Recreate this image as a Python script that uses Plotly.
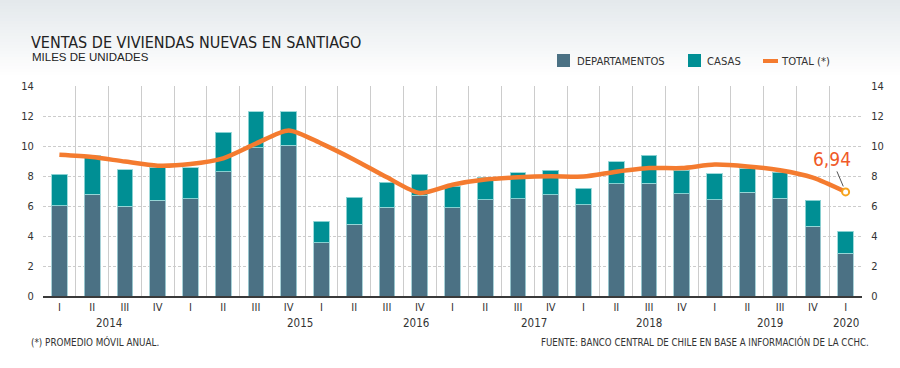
import plotly.graph_objects as go

# ---------------- data ----------------
QUARTERS = ["I", "II", "III", "IV"] * 6 + ["I"]
YEARS = ["2014", "2015", "2016", "2017", "2018", "2019", "2020"]
DEPARTAMENTOS = [6.02, 6.78, 6.00, 6.38, 6.49, 8.29, 9.89, 10.04, 3.56, 4.80, 5.93, 6.73,
                 5.87, 6.42, 6.47, 6.76, 6.07, 7.49, 7.53, 6.82, 6.42, 6.93, 6.51, 4.64, 2.84]
CASAS = [2.11, 2.57, 2.42, 2.17, 2.07, 2.62, 2.38, 2.23, 1.42, 1.80, 1.67, 1.40,
         1.44, 1.51, 1.75, 1.62, 1.13, 1.47, 1.85, 1.55, 1.73, 1.56, 1.73, 1.76, 1.49]
TOTAL = [9.42, 9.27, 8.96, 8.69, 8.80, 9.18, 10.16, 11.04, 10.16, 9.09, 7.91, 6.87,
         7.42, 7.76, 7.91, 7.98, 7.96, 8.29, 8.53, 8.53, 8.76, 8.64, 8.38, 7.89, 6.94]

# ---------------- layout helpers ----------------
W, H = 900, 368
L, R, T, B = 43, 38, 86, 72
PW, PH = W - L - R, H - T - B


def px(xp):
    return (xp - L) / PW


def py(yp):
    return (H - B - yp) / PH


NARROW = "DejaVu Sans Condensed, Liberation Sans Narrow, sans-serif"
REG = "Liberation Sans, Arial, sans-serif"
C_DEP = "#4b7184"
C_CAS = "#008f94"
C_TOT = "#f47b2f"
TXT = "#333333"
GRID = "#cccccc"

x = list(range(len(QUARTERS)))

fig = go.Figure()
fig.add_trace(go.Bar(x=x, y=DEPARTAMENTOS, name="DEPARTAMENTOS", width=0.48,
                     marker=dict(color=C_DEP, line=dict(color="rgba(160,205,212,0.9)", width=1))))
fig.add_trace(go.Bar(x=x, y=CASAS, name="CASAS", width=0.48,
                     marker=dict(color=C_CAS, line=dict(color="rgba(150,215,215,0.9)", width=1))))
fig.add_trace(go.Scatter(x=x, y=TOTAL, name="TOTAL (*)", mode="lines",
                         line=dict(color=C_TOT, width=4.5, shape="spline", smoothing=0.7)))
fig.add_trace(go.Scatter(x=[x[-1]], y=[TOTAL[-1]], mode="markers", showlegend=False,
                         marker=dict(symbol="circle", size=7, color="white",
                                     line=dict(color="#f6a41e", width=2))))

shapes = []
# header gradient
top = (228, 233, 236)
steps = 26
for i in range(steps):
    y0 = i * 3
    y1 = y0 + 3.5
    f = i / (steps - 1)
    c = tuple(int(round(top[k] + (255 - top[k]) * f)) for k in range(3))
    shapes.append(dict(type="rect", xref="paper", yref="paper", x0=px(0), x1=px(W),
                       y0=py(y1), y1=py(y0), fillcolor="rgb(%d,%d,%d)" % c,
                       line=dict(width=0), layer="below"))

# legend (manual)
shapes.append(dict(type="rect", xref="paper", yref="paper", x0=px(557), x1=px(570),
                   y0=py(67), y1=py(54), fillcolor=C_DEP, line=dict(width=0)))
shapes.append(dict(type="rect", xref="paper", yref="paper", x0=px(688), x1=px(701),
                   y0=py(67), y1=py(54), fillcolor=C_CAS, line=dict(width=0)))
shapes.append(dict(type="line", xref="paper", yref="paper", x0=px(763), x1=px(778),
                   y0=py(61), y1=py(61), line=dict(color=C_TOT, width=4)))

annotations = []


def text(s, xp, yp, size, font=NARROW, color=TXT, anchor="left"):
    annotations.append(dict(text=s, xref="paper", yref="paper", x=px(xp), y=py(yp),
                            xanchor=anchor, yanchor="middle", showarrow=False,
                            font=dict(family=font, size=size, color=color)))


text("VENTAS DE VIVIENDAS NUEVAS EN SANTIAGO", 29, 42, 16, color="#222222")
text("MILES DE UNIDADES", 30, 57, 11.5, font=REG, color="#222222")
text("DEPARTAMENTOS", 575, 61, 11.2)
text("CASAS", 705, 61, 11.2)
text("TOTAL (*)", 779, 61, 11.2)
text("(*) PROMEDIO MÓVIL ANUAL.", 29, 342, 9.8)
text("FUENTE: BANCO CENTRAL DE CHILE EN BASE A INFORMACIÓN DE LA CCHC.", 871, 342, 9.6, anchor="right")

# year labels under the quarters
YEAR_POS = [1.5, 7.35, 10.9, 14.5, 18.0, 21.7, 24.0]
for yr, pos in zip(YEARS, YEAR_POS):
    annotations.append(dict(text=yr, xref="x", yref="paper", x=pos, y=py(322.5),
                            xanchor="center", yanchor="middle", showarrow=False,
                            font=dict(family=NARROW, size=11.5, color=TXT)))

# value callout
annotations.append(dict(text=("%.2f" % TOTAL[-1]).replace(".", ","), xref="x", yref="y",
                        x=x[-1], y=TOTAL[-1], showarrow=True, arrowhead=0, arrowwidth=1,
                        arrowcolor="#555555", standoff=6, ax=-14, ay=-33,
                        font=dict(family=NARROW, size=19, color="#f05a28")))

tickfont = dict(family=NARROW, size=11, color=TXT)
fig.update_layout(
    width=W, height=H, margin=dict(l=L, r=R, t=T, b=B, autoexpand=False),
    paper_bgcolor="white", plot_bgcolor="white",
    barmode="stack", showlegend=False,
    shapes=shapes, annotations=annotations,
    xaxis=dict(range=[-0.5, len(x) - 0.5], tickmode="array", tickvals=x, ticktext=QUARTERS,
               showgrid=False, zeroline=False, showline=True, linecolor="#3a3a3a", linewidth=1.5,
               ticks="", tickfont=tickfont,
               minor=dict(tickmode="array", tickvals=[i - 0.5 for i in range(len(x) + 1)],
                          showgrid=True, gridcolor=GRID, gridwidth=1, ticks="")),
    yaxis=dict(range=[0, 14], tickmode="array", tickvals=list(range(0, 15, 2)),
               showgrid=True, gridcolor=GRID, griddash="3px,2px", gridwidth=1, zeroline=False,
               ticks="outside", ticklen=6, tickcolor="rgba(0,0,0,0)", tickfont=tickfont),
    yaxis2=dict(range=[0, 14], tickmode="array", tickvals=list(range(0, 15, 2)),
                overlaying="y", side="right", showgrid=False, zeroline=False,
                ticks="outside", ticklen=6, tickcolor="rgba(0,0,0,0)", tickfont=tickfont),
)
fig.add_trace(go.Scatter(x=[None], y=[None], yaxis="y2", showlegend=False, hoverinfo="skip"))

fig.write_html("out.html", config={"displayModeBar": False},
               post_script="document.body.style.margin='0';")
